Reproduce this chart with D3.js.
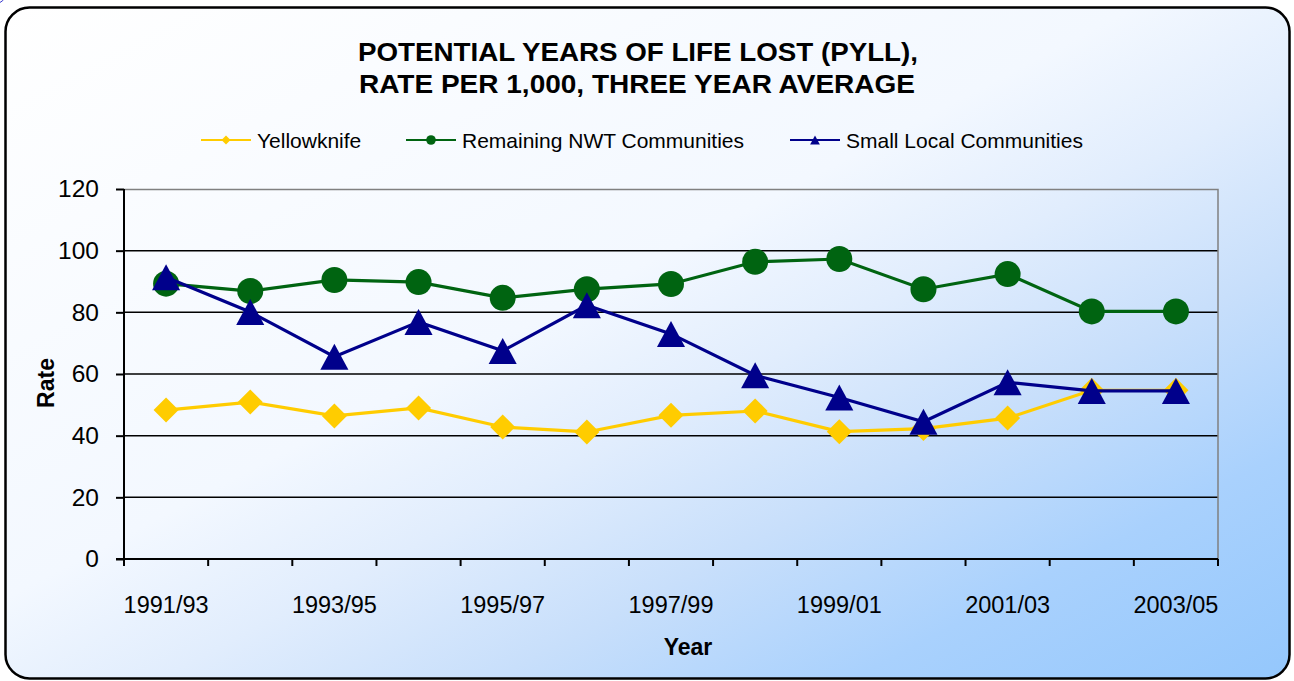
<!DOCTYPE html>
<html>
<head>
<meta charset="utf-8">
<script src="https://cdn.jsdelivr.net/npm/d3@7"></script>
<style>
  body { margin: 0; background: #ffffff; }
  svg { display: block; font-family: "Liberation Sans", Arial, sans-serif; }
  .axis path { display: none; }
  .axis text { fill: #000; }
</style>
</head>
<body>
<div id="chart"></div>
<script>
// PYLL rate chart

var categories = ["1991/93", "1992/94", "1993/95", "1994/96", "1995/97", "1996/98", "1997/99",
    "1998/00", "1999/01", "2000/02", "2001/03", "2002/04", "2003/05"];
var tickLabels = ["1991/93", "1993/95", "1995/97", "1997/99", "1999/01", "2001/03", "2003/05"];
var yTicks = [0, 20, 40, 60, 80, 100, 120];

var yellowknife = [48.3, 50.9, 46.4, 49.0, 42.8, 41.2, 46.6, 48.0, 41.3, 42.3, 45.7, 54.7, 54.7];
var remainingNWT = [89.3, 86.9, 90.5, 89.8, 84.7, 87.5, 89.2, 96.4, 97.3, 87.5, 92.4, 80.3, 80.3];
var smallLocal = [91.4, 80.1, 65.6, 76.9, 67.5, 82.3, 73.0, 59.6, 52.4, 44.5, 57.3, 54.5, 54.5];

var width = 1294;
var height = 681;

var margin = {
    top: 189,
    bottom: 122,
    left: 124,
    right: 76
}

var svg = d3.select('#chart')
    .append('svg')
    .attr('width', width)
    .attr('height', height);

// background gradient
var defs = svg.append('defs');
var grad = defs.append('linearGradient')
    .attr('id', 'bg')
    .attr('x1', 0).attr('y1', 0)
    .attr('x2', 1).attr('y2', 1);
[[0, '#ffffff'], [0.44, '#f3f8ff'], [0.56, '#e1edfd'], [0.69, '#c8dffb'], [0.83, '#a9d1fd'], [1, '#94c7fc']]
    .forEach(function(s) {
        grad.append('stop').attr('offset', s[0]).attr('stop-color', s[1]);
    });

svg.append('rect')
    .attr('x', 5.5)
    .attr('y', 7.5)
    .attr('width', 1284)
    .attr('height', 671)
    .attr('rx', 24)
    .attr('fill', 'url(#bg)')
    .attr('stroke', '#000')
    .attr('stroke-width', 2.5);

// little arc in the corner
svg.append('circle')
    .attr('cx', -3)
    .attr('cy', -5)
    .attr('r', 8)
    .attr('fill', 'none')
    .attr('stroke', '#3333cc')
    .attr('stroke-width', 1);

var plotW = width - margin.left - margin.right;
var plotH = height - margin.top - margin.bottom;

var g = svg.append('g')
    .attr('transform', 'translate(' + margin.left + ',' + margin.top + ')');

var x_scale = d3.scaleBand()
    .domain(categories)
    .range([0, plotW])
    .padding(0);

var y_scale = d3.scaleLinear()
    .domain([0, 120])
    .range([plotH, 0]);

// Title

var title = svg.append('text')
    .attr('text-anchor', 'middle')
    .attr('font-weight', 'bold')
    .attr('font-size', 26);
title.append('tspan').attr('x', 638).attr('y', 60.5)
    .attr('textLength', 560).attr('lengthAdjust', 'spacingAndGlyphs')
    .text('POTENTIAL YEARS OF LIFE LOST (PYLL),');
title.append('tspan').attr('x', 637).attr('y', 93)
    .attr('textLength', 556).attr('lengthAdjust', 'spacingAndGlyphs')
    .text('RATE PER 1,000, THREE YEAR AVERAGE');

// gridlines

g.append('g')
    .selectAll('line')
    .data(yTicks.filter(function(d) { return d > 0 && d < 120; }))
    .enter()
    .append('line')
    .attr('x1', 0)
    .attr('x2', plotW)
    .attr('y1', function(d) { return y_scale(d); })
    .attr('y2', function(d) { return y_scale(d); })
    .attr('stroke', '#000')
    .attr('stroke-width', 1.5);

// top and right border of plot
g.append('path')
    .attr('d', 'M0,0.5H' + plotW + 'V' + plotH)
    .attr('fill', 'none')
    .attr('stroke', '#808080')
    .attr('stroke-width', 1.5);

// Y axis
var y_axis = d3.axisLeft(y_scale)
    .tickValues(yTicks)
    .tickSizeInner(8)
    .tickSizeOuter(0)
    .tickPadding(17);

g.append('g')
    .attr('class', 'y axis')
    .call(y_axis)
    .call(function(a) {
        a.selectAll('line').attr('stroke', '#000').attr('stroke-width', 2);
        a.selectAll('text').attr('font-size', 24.5).attr('font-family', '"Liberation Sans", Arial, sans-serif');
    });

// X axis labels
var x_axis = d3.axisBottom(x_scale)
    .tickValues(tickLabels)
    .tickSize(0)
    .tickPadding(54);

g.append('g')
    .attr('class', 'x axis')
    .attr('transform', 'translate(0,' + plotH + ')')
    .call(x_axis)
    .call(function(a) {
        a.selectAll('text').attr('font-size', 23.5).attr('font-family', '"Liberation Sans", Arial, sans-serif').attr('dy', 0);
    });

// X tick marks on category boundaries
var bounds = categories.map(function(c) { return x_scale(c); }).concat([plotW]);
g.append('g')
    .selectAll('line')
    .data(bounds)
    .enter()
    .append('line')
    .attr('x1', function(d) { return d; })
    .attr('x2', function(d) { return d; })
    .attr('y1', plotH)
    .attr('y2', plotH + 7)
    .attr('stroke', '#000')
    .attr('stroke-width', 2);

// axis lines
g.append('line')
    .attr('x1', 0).attr('x2', 0)
    .attr('y1', 0).attr('y2', plotH + 7)
    .attr('stroke', '#000').attr('stroke-width', 2);
g.append('line')
    .attr('x1', -8).attr('x2', plotW)
    .attr('y1', plotH).attr('y2', plotH)
    .attr('stroke', '#000').attr('stroke-width', 2);

// axis titles
svg.append('text')
    .attr('transform', 'translate(54,383) rotate(-90)')
    .attr('text-anchor', 'middle')
    .attr('font-weight', 'bold')
    .attr('font-size', 23)
    .text('Rate');

svg.append('text')
    .attr('x', 688)
    .attr('y', 655)
    .attr('text-anchor', 'middle')
    .attr('font-weight', 'bold')
    .attr('font-size', 23)
    .text('Year');

// series

function markerPath(shape, s) {
    if (shape === 'diamond') return 'M0,' + (-s) + 'L' + s + ',0L0,' + s + 'L' + (-s) + ',0Z';
    if (shape === 'triangle') return 'M0,' + (-s) + 'L' + (s * 1.08) + ',' + s + 'L' + (-s * 1.08) + ',' + s + 'Z';
    return d3.symbol(d3.symbolCircle, Math.PI * s * s)();
}

var series = [
    { name: 'Yellowknife', values: yellowknife, color: '#ffcc00', shape: 'diamond', size: 12.5 },
    { name: 'Remaining NWT Communities', values: remainingNWT, color: '#006411', shape: 'circle', size: 13 },
    { name: 'Small Local Communities', values: smallLocal, color: '#00008b', shape: 'triangle', size: 13 }
];

var line = d3.line()
    .x(function(d, i) { return x_scale(categories[i]) + x_scale.bandwidth() / 2; })
    .y(function(d) { return y_scale(d); });

series.forEach(function(s) {
    var sg = g.append('g');
    sg.append('path')
        .attr('d', line(s.values))
        .attr('fill', 'none')
        .attr('stroke', s.color)
        .attr('stroke-width', 3.2);
    sg.selectAll('.marker')
        .data(s.values)
        .enter()
        .append('path')
        .attr('class', 'marker')
        .attr('d', markerPath(s.shape, s.size))
        .attr('transform', function(d, i) {
            return 'translate(' + (x_scale(categories[i]) + x_scale.bandwidth() / 2) + ',' + y_scale(d) + ')';
        })
        .attr('fill', s.color);
});

// Legend

var legendX = [201, 406, 790];
var legend = svg.append('g');
series.forEach(function(s, i) {
    var lg = legend.append('g')
        .attr('transform', 'translate(' + legendX[i] + ',140)');
    lg.append('line')
        .attr('x1', 0).attr('x2', 50)
        .attr('y1', 0).attr('y2', 0)
        .attr('stroke', s.color)
        .attr('stroke-width', 2.2);
    lg.append('path')
        .attr('d', markerPath(s.shape, s.shape === 'circle' ? 4.8 : 4.5))
        .attr('transform', 'translate(25,0)')
        .attr('fill', s.color);
    lg.append('text')
        .attr('x', 56)
        .attr('y', 8)
        .attr('font-size', 21)
        .text(s.name);
});
</script>
</body>
</html>
